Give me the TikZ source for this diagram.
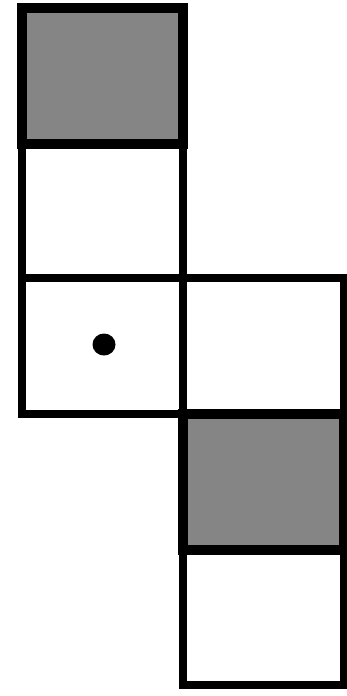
\documentclass[tikz,border=0pt]{standalone}
\begin{document}
\begin{tikzpicture}[x=1pt,y=-1pt,
  cell/.style={draw=black, line width=8pt, rectangle, inner sep=0pt, outer sep=0pt,
    minimum width=161pt, minimum height=135.5pt, fill=white},
  graycell/.style={cell, fill=black!48, line width=10pt}]
\useasboundingbox (0,0) rectangle (346,696);
\node[cell] (b) at (102.5,210.5) {};
\node[cell] (c) at (102.5,346) {};
\node[cell] (d) at (263,346) {};
\node[cell] (f) at (263,617.5) {};
\node[graycell] (a) at (102.5,76) {};
\node[graycell] (e) at (263,482) {};
\fill[black] (104,344.5) ellipse[x radius=11.5pt, y radius=11pt];
\end{tikzpicture}
\end{document}
